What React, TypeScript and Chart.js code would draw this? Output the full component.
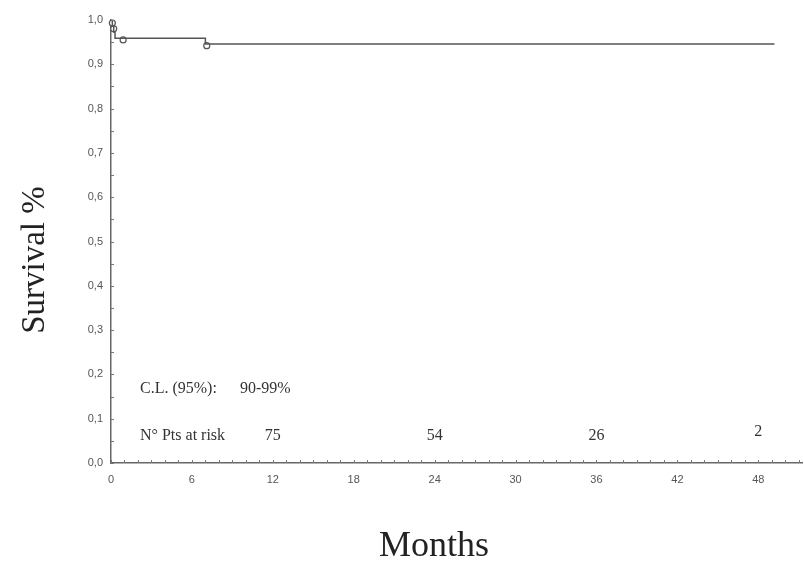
import { useEffect, useRef } from "react";
import { Chart, registerables } from "chart.js";

Chart.register(...registerables);

// Kaplan-Meier curve (months, survival fraction)
const curveMonths = [0, 0.1, 0.2, 0.3, 7.0, 49.2];
const curveSurvival = [1.0, 0.987, 0.973, 0.959, 0.946, 0.946];

// Censored observations
const censorMonths = [0.1, 0.2, 0.9, 7.1];
const censorSurvival = [0.993, 0.98, 0.955, 0.942];

// Patients at risk
const riskMonths = [12, 24, 36, 48];
const riskCounts = ["75", "54", "26", "2"];

const xMax = 51.3;
const xLabelEvery = 6;
const yMinorStep = 0.05;

const ciLabel = "C.L. (95%):";
const ciValue = "90-99%";
const riskLabel = "N° Pts at risk";
const yTitle = "Survival %";
const xTitle = "Months";

export default function App() {
  const ref = useRef<HTMLCanvasElement | null>(null);

  useEffect(() => {
    if (!ref.current) return;

    const overlay = {
      id: "overlay",
      afterDraw(chart: any) {
        const ctx = chart.ctx;
        const xs = chart.scales.x;
        const ys = chart.scales.y;
        const area = chart.chartArea;
        ctx.save();
        // minor ticks
        ctx.strokeStyle = "#777";
        ctx.lineWidth = 1;
        ctx.beginPath();
        for (let m = 0; m <= Math.floor(xMax); m++) {
          const px = Math.round(xs.getPixelForValue(m)) + 0.5;
          ctx.moveTo(px, area.bottom);
          ctx.lineTo(px, area.bottom - 3);
        }
        for (let i = 0; i <= Math.round(1 / yMinorStep); i++) {
          const py = Math.round(ys.getPixelForValue(i * yMinorStep)) + 0.5;
          ctx.moveTo(area.left, py);
          ctx.lineTo(area.left + 3, py);
        }
        ctx.stroke();

        // annotations
        ctx.fillStyle = "#333";
        ctx.font = "16px 'Liberation Serif', serif";
        ctx.textBaseline = "middle";
        ctx.textAlign = "left";
        ctx.fillText(ciLabel, 140, 389);
        ctx.fillText(ciValue, 240, 389);
        ctx.fillText(riskLabel, 140, 436);
        ctx.textAlign = "center";
        riskMonths.forEach((m, i) => {
          const dy = riskCounts[i].length === 1 ? -4 : 0;
          ctx.fillText(riskCounts[i], xs.getPixelForValue(m), 436 + dy);
        });

        // axis titles
        ctx.fillStyle = "#222";
        ctx.font = "36px 'Liberation Serif', serif";
        ctx.textAlign = "center";
        ctx.textBaseline = "middle";
        ctx.fillText(xTitle, 434, 547);
        ctx.save();
        ctx.translate(35, 260);
        ctx.rotate(-Math.PI / 2);
        ctx.font = "33px 'Liberation Serif', serif";
        ctx.fillText(yTitle, 0, 0);
        ctx.restore();
        ctx.restore();
      },
    };

    const chart = new Chart(ref.current, {
      type: "scatter",
      data: {
        datasets: [
          {
            data: curveMonths.map((m, i) => ({ x: m, y: curveSurvival[i] })),
            showLine: true,
            stepped: true,
            borderColor: "#555",
            borderWidth: 1.5,
            pointRadius: 0,
            fill: false,
          },
          {
            data: censorMonths.map((m, i) => ({ x: m, y: censorSurvival[i] })),
            showLine: false,
            pointRadius: 3,
            pointStyle: "circle",
            backgroundColor: "#fff",
            borderColor: "#555",
            borderWidth: 1.2,
            clip: false,
          },
        ],
      },
      options: {
        responsive: false,
        animation: false,
        layout: { padding: { top: 20, right: 1, left: 0, bottom: 0 } },
        plugins: { legend: { display: false }, tooltip: { enabled: false } },
        scales: {
          x: {
            type: "linear",
            min: 0,
            max: xMax,
            afterFit: (s: any) => {
              s.height = 100;
              s.paddingLeft = 0;
              s.paddingRight = 0;
            },
            grid: { display: false, drawTicks: false },
            border: { display: true, color: "#666", width: 1.5 },
            ticks: {
              stepSize: 1,
              autoSkip: false,
              maxRotation: 0,
              padding: 10,
              color: "#555",
              font: { family: "'Liberation Sans', Arial, sans-serif", size: 11 },
              callback: (v: any) => {
                const n = Number(v);
                return Math.abs(n - Math.round(n)) < 1e-6 && Math.round(n) % xLabelEvery === 0
                  ? String(Math.round(n))
                  : "";
              },
            },
          },
          y: {
            type: "linear",
            min: 0,
            max: 1,
            afterFit: (s: any) => {
              s.width = 111;
            },
            grid: { display: false, drawTicks: false },
            border: { display: true, color: "#666", width: 1.5 },
            ticks: {
              stepSize: yMinorStep,
              autoSkip: false,
              padding: 8,
              color: "#555",
              font: { family: "'Liberation Sans', Arial, sans-serif", size: 11 },
              callback: (v: any) => {
                const n = Math.round(Number(v) * 100);
                return n % 10 === 0 ? (n / 100).toFixed(1).replace(".", ",") : "";
              },
            },
          },
        },
      },
      plugins: [overlay],
    });

    return () => chart.destroy();
  }, []);

  return (
    <div
      style={{
        position: "absolute",
        left: 0,
        top: 0,
        width: 804,
        height: 563,
        overflow: "hidden",
        background: "#fff",
      }}
    >
      <canvas ref={ref} width={808} height={563} style={{ display: "block" }} />
    </div>
  );
}
